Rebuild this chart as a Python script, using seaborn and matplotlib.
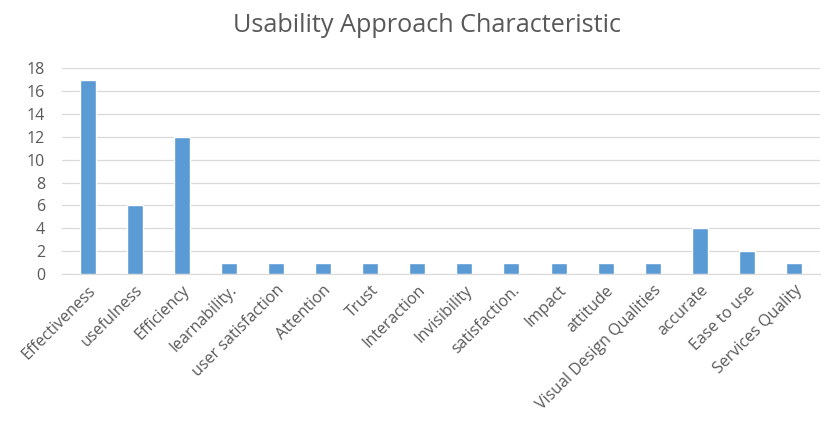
import pandas as pd
import seaborn as sns
import matplotlib.pyplot as plt

categorias = ["Effectiveness", "usefulness", "Efficiency", "learnability.", "user satisfaction",
              "Attention", "Trust", "Interaction", "Invisibility", "satisfaction.", "Impact",
              "attitude", "Visual Design Qualities", "accurate", "Ease to use", "Services Quality"]
valores = [17, 6, 12, 1, 1, 1, 1, 1, 1, 1, 1, 1, 1, 4, 2, 1]
ticks_y = [0, 2, 4, 6, 8, 10, 12, 14, 16, 18]

df = pd.DataFrame({"Caracteristica": categorias, "Valor": valores})

sns.set_style("white")
plt.rcParams['font.family'] = ['Open Sans', 'DejaVu Sans']

fig = plt.figure(figsize=(8.24, 4.21), dpi=100)
ax = fig.add_axes([0.075, 0.349, 0.92, 0.489])

sns.barplot(data=df, x="Caracteristica", y="Valor", color="#5B9BD5", width=0.34,
            saturation=1, ax=ax, zorder=3)

ax.set_ylim(0, 18)
ax.set_yticks(ticks_y)
ax.set_xlim(-0.55, len(categorias) - 0.45)
ax.grid(axis="y", color="#D9D9D9", linewidth=0.9, zorder=0)
ax.set_axisbelow(True)
for lado in ["top", "right", "left"]:
    ax.spines[lado].set_visible(False)
ax.spines["bottom"].set_color("#D9D9D9")
ax.tick_params(axis="both", length=0, colors="#595959", labelsize=11.5)
ax.tick_params(axis="y", pad=12)
ax.tick_params(axis="x", pad=6)
plt.setp(ax.get_xticklabels(), rotation=45, ha="right", rotation_mode="anchor")
ax.set_xlabel("")
ax.set_ylabel("")

fig.suptitle("Usability Approach Characteristic", x=0.518, y=0.94, va="center",
             fontsize=18.2, color="#595959")

fig.savefig("out.png", dpi=100)
